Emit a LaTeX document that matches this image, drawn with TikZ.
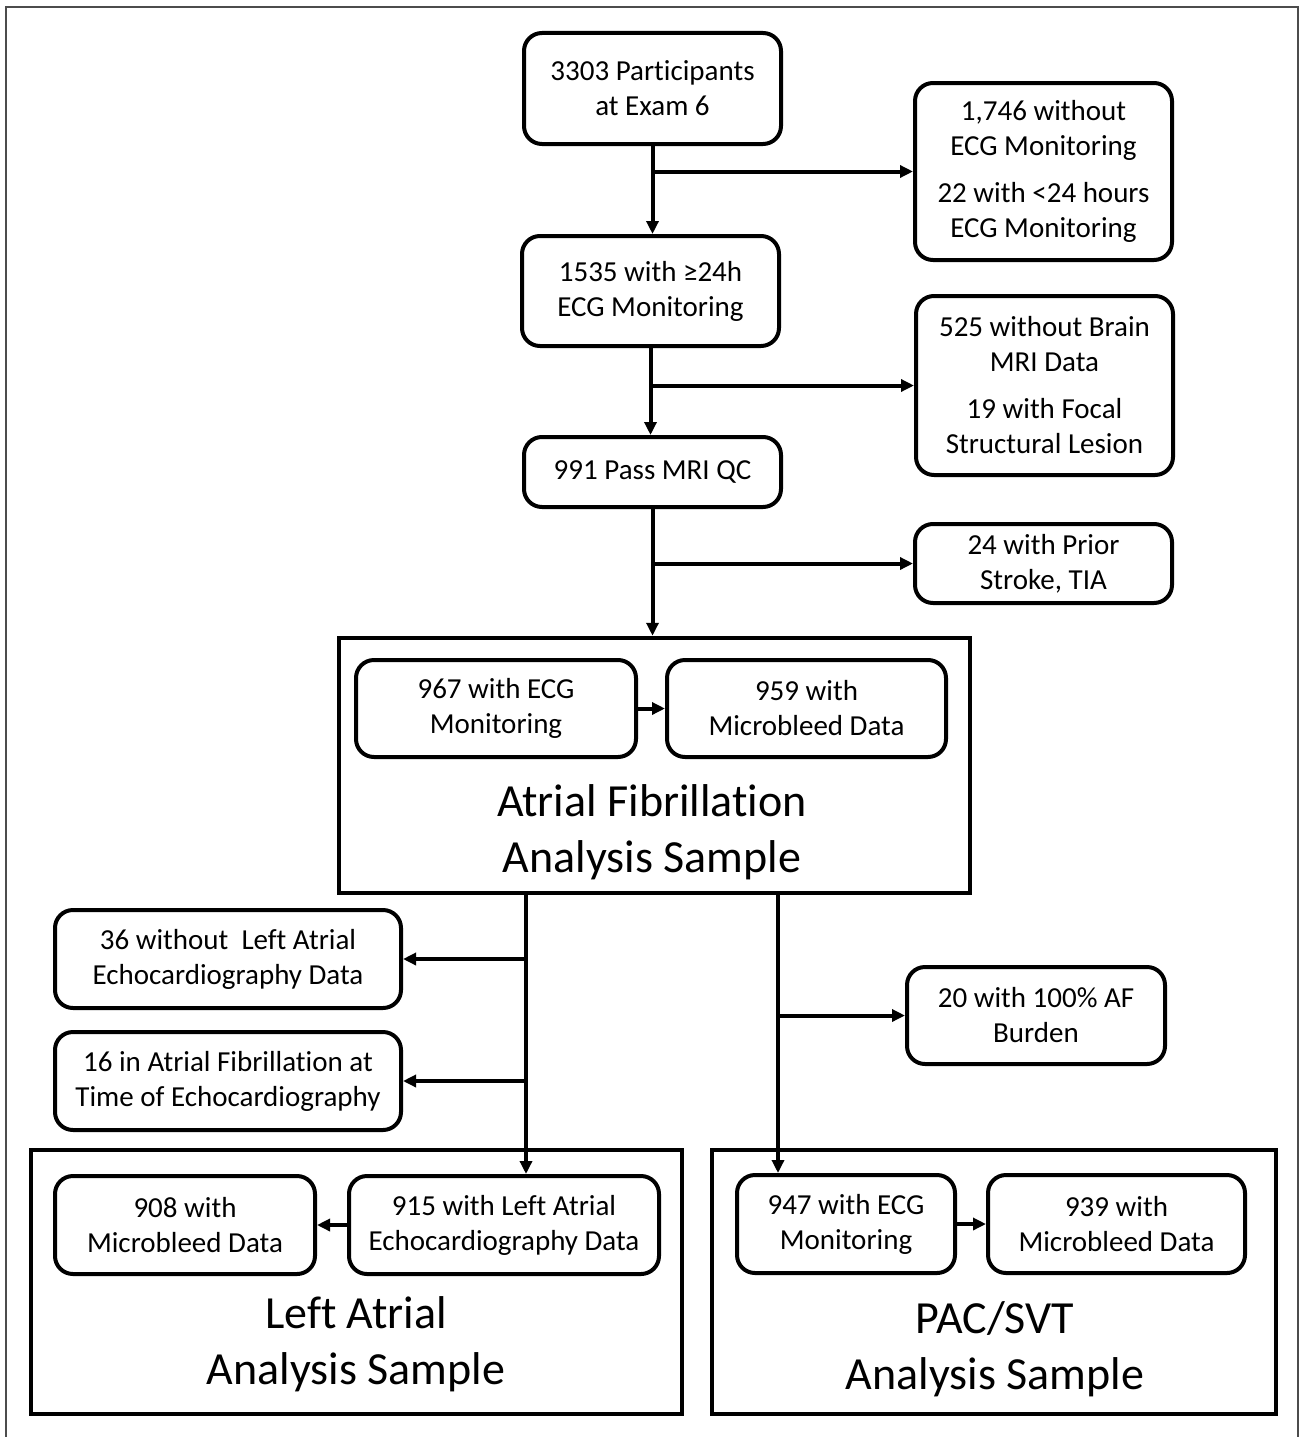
\documentclass[tikz,border=0pt]{standalone}
\usepackage{fontspec}
\setmainfont{Carlito}[Ligatures={NoCommon,NoContextual}]
\usetikzlibrary{arrows.meta}
\begin{document}
\begin{tikzpicture}[x=1pt,y=-1pt,
  box/.style={draw, line width=4pt, rounded corners=18pt, align=center, inner sep=0pt, font=\fontsize{29}{35}\selectfont},
  bigbox/.style={draw, line width=4.5pt, inner sep=0pt},
  title/.style={align=center, font=\fontsize{46}{56}\selectfont},
  conn/.style={line width=4pt, -{Triangle[length=13pt,width=12pt]}},
  frame/.style={draw=black!70, line width=2pt}]
\useasboundingbox (0,0) rectangle (1299,1437);
\draw[frame] (6,1437) -- (6,7) -- (1298,7) -- (1298,1437);

\node[box, minimum width=257pt, minimum height=111pt] (A) at (652.5,88.5) {3303 Participants\\at Exam 6};
\node[box, minimum width=257pt, minimum height=177pt] (B) at (1043.5,171.5) {1,746 without\\ECG Monitoring\\[12pt]22 with <24 hours\\ECG Monitoring};
\node[box, minimum width=257pt, minimum height=110pt] (C) at (650.5,291) {1535 with ≥24h\\ECG Monitoring};
\node[box, minimum width=257pt, minimum height=179pt] (D) at (1044.5,385.5) {525 without Brain\\MRI Data\\[12pt]19 with Focal\\Structural Lesion};
\node[box, minimum width=257pt, minimum height=70pt] (E) at (652.5,472) {991 Pass MRI QC};
\node[box, minimum width=257pt, minimum height=79pt] (F) at (1043.5,563.5) {24 with Prior\\Stroke, TIA};

\node[bigbox, minimum width=631pt, minimum height=255pt] (AF) at (654.5,765.5) {};
\node[box, minimum width=280pt, minimum height=97pt] (G) at (496,708.5) {967 with ECG\\Monitoring};
\node[box, minimum width=279pt, minimum height=97pt] (H) at (806.5,708.5) {959 with\\Microbleed Data};
\node[title] (AFt) at (652,832) {Atrial Fibrillation\\Analysis Sample};

\node[box, minimum width=346pt, minimum height=98pt] (I) at (228,959) {36 without\ \ Left Atrial\\Echocardiography Data};
\node[box, minimum width=346pt, minimum height=98pt] (J) at (228,1081) {16 in Atrial Fibrillation at\\Time of Echocardiography};
\node[box, minimum width=258pt, minimum height=97pt] (K) at (1036,1015.5) {20 with 100\% AF\\Burden};

\node[bigbox, minimum width=651pt, minimum height=264pt] (LA) at (356.5,1282) {};
\node[box, minimum width=260pt, minimum height=98pt] (L) at (185,1225) {908 with\\Microbleed Data};
\node[box, minimum width=310pt, minimum height=98pt] (M) at (504,1225) {915 with Left Atrial\\Echocardiography Data};
\node[title] (LAt) at (356,1344.5) {Left Atrial\\Analysis Sample};

\node[bigbox, minimum width=564pt, minimum height=264pt] (PS) at (994,1282) {};
\node[box, minimum width=218pt, minimum height=98pt] (N) at (846,1224) {947 with ECG\\Monitoring};
\node[box, minimum width=257pt, minimum height=98pt] (O) at (1116.5,1224) {939 with\\Microbleed Data};
\node[title] (PSt) at (995,1349.5) {PAC/SVT\\Analysis Sample};

\draw[conn] (A.south) -- (A.south |- C.north);
\draw[conn] (A.south |- B.west) -- (B.west);
\draw[conn] (C.south) -- (C.south |- E.north);
\draw[conn] (C.south |- D.west) -- (D.west);
\draw[conn] (E.south) -- (E.south |- AF.north);
\draw[conn] (E.south |- F.west) -- (F.west);
\draw[conn] (G.east) -- (H.west);

\coordinate (la) at (526,893);
\draw[conn] (la) -- (la |- M.north);
\draw[conn] (la |- I.east) -- (I.east);
\draw[conn] (la |- J.east) -- (J.east);
\coordinate (pc) at (778,893);
\draw[conn] (pc) -- (pc |- N.north);
\draw[conn] (pc |- K.west) -- (K.west);
\draw[conn] (M.west) -- (L.east);
\draw[conn] (N.east) -- (O.west);
\end{tikzpicture}
\end{document}
